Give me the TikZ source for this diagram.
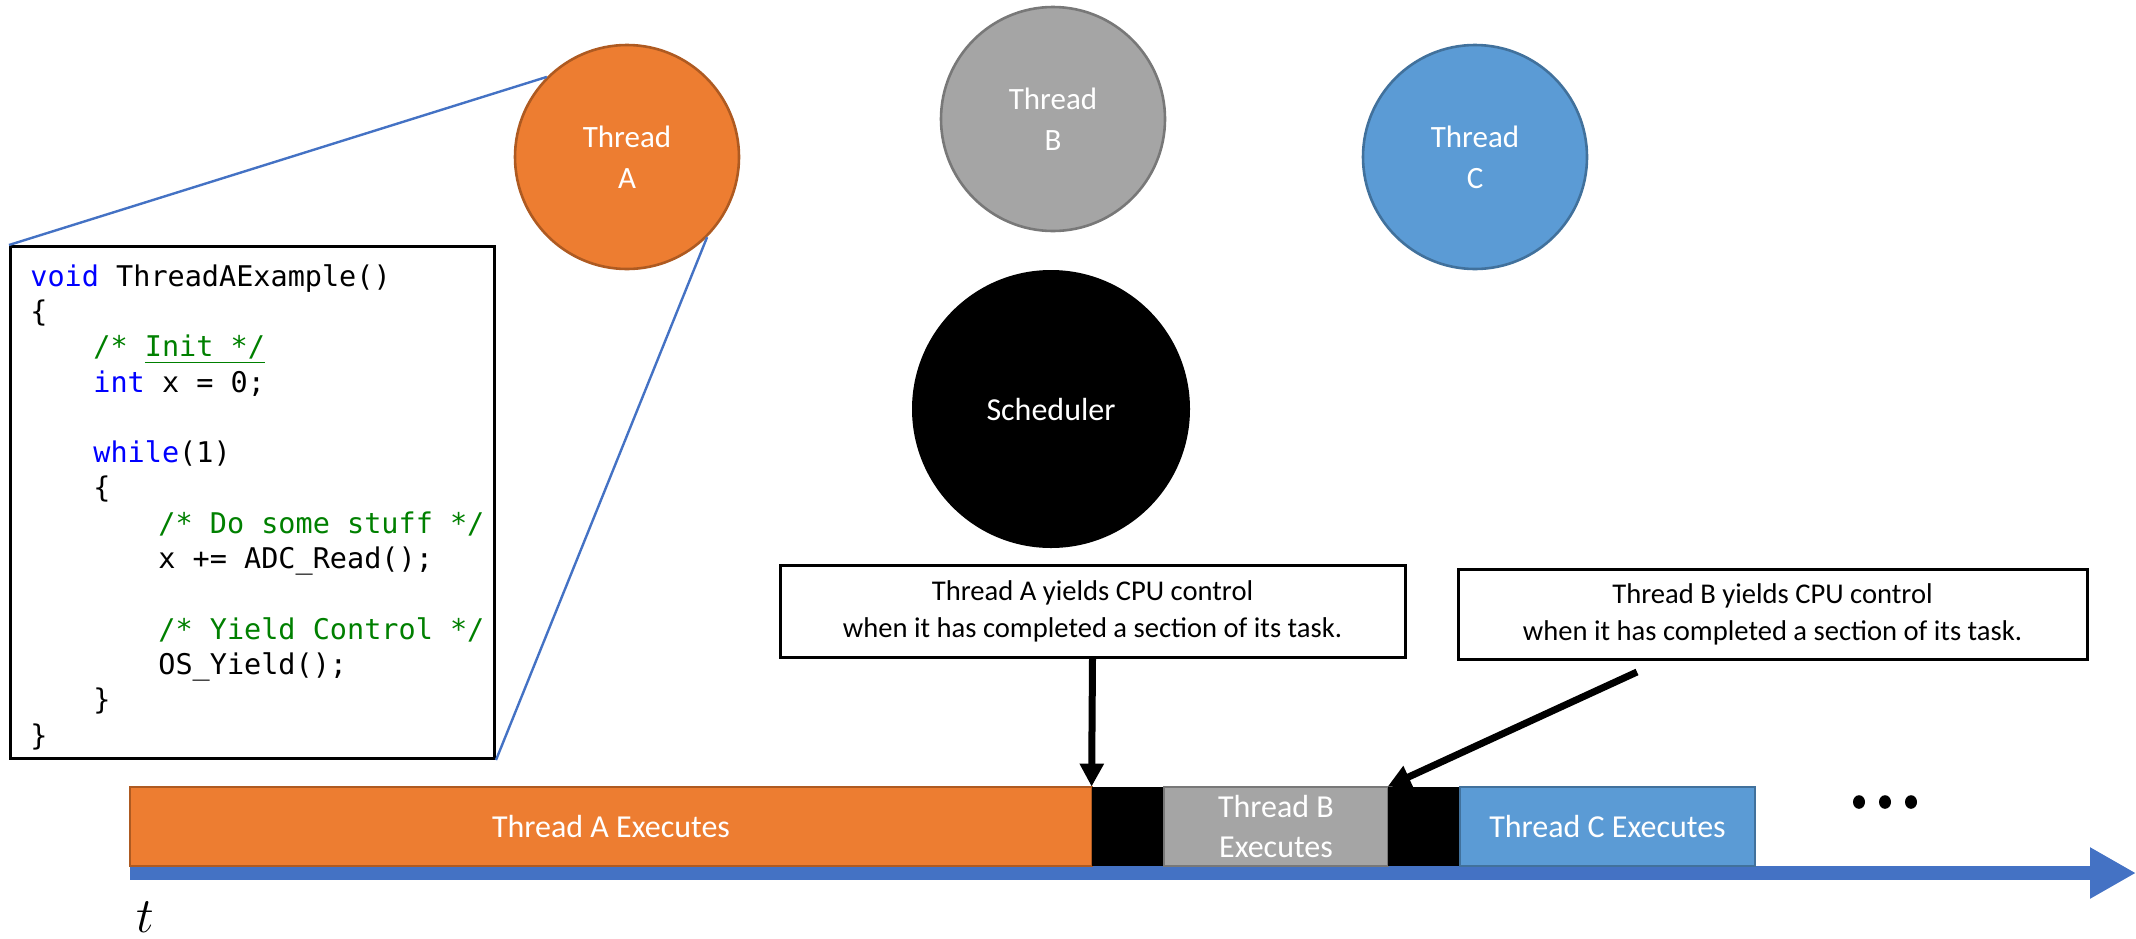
\documentclass[tikz,border=0pt]{standalone}
\usepackage{fontspec}
\setmainfont{Carlito}
\newfontfamily\codefont{DejaVu Sans Mono}
\usetikzlibrary{arrows.meta}

\definecolor{thrA}{HTML}{ED7D31}
\definecolor{thrAedge}{HTML}{AE5A21}
\definecolor{thrB}{HTML}{A5A5A5}
\definecolor{thrBedge}{HTML}{787878}
\definecolor{thrC}{HTML}{5B9BD5}
\definecolor{thrCedge}{HTML}{41719C}
\definecolor{axisblue}{HTML}{4472C4}
\definecolor{kwblue}{HTML}{0000FF}
\definecolor{cmgreen}{HTML}{008000}

\newcommand{\kw}[1]{{\color{kwblue}#1}}
\newcommand{\cm}[1]{{\color{cmgreen}#1}}
\newcommand{\indA}{\hspace*{31.5pt}}
\newcommand{\indB}{\hspace*{64pt}}

\begin{document}
\begin{tikzpicture}[x=0.5pt, y=-0.5pt,
  thread/.style={circle, inner sep=0pt, minimum size=112pt, line width=1.3pt,
    text=white, align=center, font=\fontsize{15.5}{20.5}\selectfont},
  schednode/.style={circle, inner sep=0pt, minimum size=139pt, fill=black,
    text=white, font=\fontsize{16}{20}\selectfont},
  codebox/.style={draw=black, line width=1.5pt, rectangle, inner sep=0pt,
    minimum width=242pt, minimum height=256pt, anchor=north west},
  callout/.style={draw=black, line width=1.5pt, rectangle, inner sep=0pt,
    align=center, font=\fontsize{14.3}{18.5}\selectfont},
  bar/.style={rectangle, inner sep=0pt, minimum height=39.5pt, line width=1pt,
    text=white, align=center, font=\fontsize{16}{20}\selectfont},
  gapbar/.style={rectangle, inner sep=0pt, minimum height=39.5pt,
    minimum width=36pt, fill=black},
  zoomline/.style={draw=axisblue, line width=1.2pt},
  yieldarrow/.style={draw=black, line width=3.5pt,
    -{Triangle[length=11.5pt, width=11.5pt]}},
  timeaxis/.style={draw=axisblue, line width=7pt,
    -{Triangle[length=23pt, width=24pt]}}
]
\useasboundingbox (0,0) rectangle (2136,938);

% threads
\node[thread, fill=thrA, draw=thrAedge] (A) at (627,157) {Thread\\A};
\node[thread, fill=thrB, draw=thrBedge] (B) at (1053,119) {Thread\\B};
\node[thread, fill=thrC, draw=thrCedge] (C) at (1475,157) {Thread\\C};

% scheduler
\node[schednode] (sched) at (1051,409) {Scheduler};

% code listing of thread A
\node[codebox, fill=white] (code) at (9,245) {};
\node[anchor=north west, inner sep=0pt, align=left,
      font=\codefont\fontsize{14.25}{17.65}\selectfont] (listing) at (30,261) {%
\strut\kw{void} ThreadAExample()\\
\{\\
\indA\cm{/* \underline{Init */}}\\
\indA\kw{int} x = 0;\\
\mbox{}\\
\indA\kw{while}(1)\\
\indA\{\\
\indB\cm{/* Do some stuff */}\\
\indB x += ADC\_Read();\\
\mbox{}\\
\indB\cm{/* Yield Control */}\\
\indB OS\_Yield();\\
\indA\}\\
\}};

% zoom lines from the thread to its code
\draw[zoomline] (code.north west) -- (A.135);
\draw[zoomline] (A.-45) -- (code.south east);

% callouts
\node[callout, minimum width=312.5pt, minimum height=46pt] (noteA) at (1092.5,611)
  {Thread A yields CPU control\\when it has completed a section of its task.};
\node[callout, minimum width=314.5pt, minimum height=45pt] (noteB) at (1772.5,614)
  {Thread B yields CPU control\\when it has completed a section of its task.};

% time axis
\coordinate (axstart) at (130,873);
\coordinate (axend) at (2136,873);
\draw[timeaxis] (axstart) -- (axend);

% execution bars
\node[bar, fill=thrA, draw=thrAedge, minimum width=481pt] (runA) at (611,826.5) {Thread A Executes};
\node[gapbar] (swA) at (1128,826.5) {};
\node[bar, fill=thrB, draw=thrBedge, minimum width=112pt] (runB) at (1276,826.5) {Thread B\\Executes};
\node[gapbar] (swB) at (1424,826.5) {};
\node[bar, fill=thrC, draw=thrCedge, minimum width=147.5pt] (runC) at (1607.5,826.5) {Thread C Executes};

% continuation dots
\fill (1859,802) ellipse [x radius=3pt, y radius=3.4pt];
\fill (1885,802) ellipse [x radius=3pt, y radius=3.4pt];
\fill (1911,802) ellipse [x radius=3pt, y radius=3.4pt];

% yield arrows
\draw[yieldarrow] (noteA.south) -- (swA.north west);
\coordinate (tailB) at (1637,672);
\draw[yieldarrow] (tailB) -- (swB.north west);

% time label
\node[anchor=base, inner sep=0pt] (tlabel) at (145,932) {\fontsize{26}{26}\selectfont$t$};
\end{tikzpicture}
\end{document}
